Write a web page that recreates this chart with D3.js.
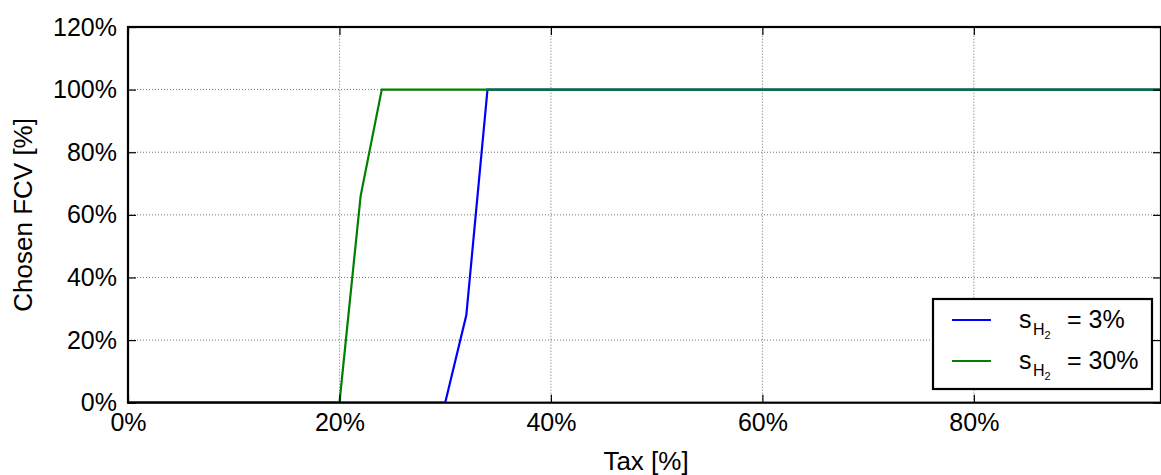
<!DOCTYPE html>
<html>
<head>
<meta charset="utf-8">
<script src="https://cdn.jsdelivr.net/npm/d3@7"></script>
<style>
  html, body { margin: 0; padding: 0; background: #fff; }
  svg { display: block; font-family: "Liberation Sans", Arial, sans-serif; }
</style>
</head>
<body>
<svg id="chart" width="1161" height="475"></svg>
<script>
// Tax level (%) where each curve bends, and the share of FCV chosen (%)
const taxLow = [0, 30, 32, 34, 100];
const fcvLow = [0, 0, 28, 100, 100];
const taxHigh = [0, 20, 22, 24, 100];
const fcvHigh = [0, 0, 66, 100, 100];

const seriesNames = ["3%", "30%"];
const seriesColors = ["#0000ff", "#008000"];

const xTicks = [0, 20, 40, 60, 80];
const yTicks = [0, 20, 40, 60, 80, 100, 120];
const xMax = 97.7;
const yMax = 120;

const svg = d3.select("#chart");
const margin = { left: 128, right: 0, top: 27, bottom: 72 };
const W = 1161, H = 475;

const x = d3.scaleLinear().domain([0, xMax]).range([margin.left, W - margin.right]);
const y = d3.scaleLinear().domain([0, yMax]).range([H - margin.bottom - 0.3, margin.top]);

const tickFs = 25;
const labelFs = 26;

// clip so lines stay inside plotting area
svg.append("defs").append("clipPath").attr("id", "plotclip")
  .append("rect")
  .attr("x", x(0)).attr("y", y(yMax))
  .attr("width", x(xMax) - x(0)).attr("height", y(0) - y(yMax));

// dotted grid
const grid = svg.append("g");
grid.selectAll("line.gx").data(xTicks.filter(d => d > 0)).join("line")
  .attr("x1", d => x(d)).attr("x2", d => x(d))
  .attr("y1", y(0)).attr("y2", y(yMax))
  .attr("stroke", "#000").attr("stroke-width", 0.8)
  .attr("stroke-dasharray", "1,2").attr("opacity", 0.7);
grid.selectAll("line.gy").data(yTicks.filter(d => d > 0 && d < yMax)).join("line")
  .attr("x1", x(0)).attr("x2", x(xMax))
  .attr("y1", d => y(d)).attr("y2", d => y(d))
  .attr("stroke", "#000").attr("stroke-width", 0.8)
  .attr("stroke-dasharray", "1,2").attr("opacity", 0.7);

// series lines
const line = d3.line().x(d => x(d[0])).y(d => y(d[1]));
const series = [
  d3.zip(taxLow, fcvLow),
  d3.zip(taxHigh, fcvHigh)
];
const plot = svg.append("g").attr("clip-path", "url(#plotclip)");
series.forEach((pts, i) => {
  plot.append("path").datum(pts)
    .attr("d", line)
    .attr("fill", "none")
    .attr("stroke", seriesColors[i])
    .attr("stroke-width", 2.2)
    .attr("stroke-linejoin", "miter");
});

// axes with inward ticks on all four sides
const fmt = d => d + "%";
const tickLen = 8;
const axBottom = svg.append("g").attr("transform", `translate(0,${y(0)})`)
  .call(d3.axisBottom(x).tickValues(xTicks).tickFormat(fmt).tickSizeInner(-tickLen).tickSizeOuter(0).tickPadding(11));
const axTop = svg.append("g").attr("transform", `translate(0,${y(yMax)})`)
  .call(d3.axisTop(x).tickValues(xTicks).tickFormat("").tickSizeInner(-tickLen).tickSizeOuter(0));
const axLeft = svg.append("g").attr("transform", `translate(${x(0)},0)`)
  .call(d3.axisLeft(y).tickValues(yTicks).tickFormat(fmt).tickSizeInner(-tickLen).tickSizeOuter(0).tickPadding(11));
const axRight = svg.append("g").attr("transform", `translate(${x(xMax)},0)`)
  .call(d3.axisRight(y).tickValues(yTicks).tickFormat("").tickSizeInner(-tickLen).tickSizeOuter(0));

[axBottom, axTop, axLeft, axRight].forEach(g => {
  g.select(".domain").remove();
  g.selectAll(".tick line").attr("stroke", "#000").attr("stroke-width", 1.2);
  g.selectAll(".tick text").attr("fill", "#000").style("font-size", tickFs + "px")
    .style("font-family", '"Liberation Sans", Arial, sans-serif');
});

// frame
svg.append("rect")
  .attr("x", x(0)).attr("y", y(yMax))
  .attr("width", x(xMax) - x(0)).attr("height", y(0) - y(yMax))
  .attr("fill", "none").attr("stroke", "#000").attr("stroke-width", 2.2);

// axis titles
svg.append("text")
  .attr("x", 646).attr("y", 470)
  .attr("text-anchor", "middle").style("font-size", labelFs + "px")
  .text("Tax [%]");
svg.append("text")
  .attr("transform", `translate(32,${(y(0) + y(yMax)) / 2}) rotate(-90)`)
  .attr("text-anchor", "middle").style("font-size", labelFs + "px")
  .text("Chosen FCV [%]");

// legend
const lg = svg.append("g");
lg.append("rect")
  .attr("x", 933).attr("y", 299).attr("width", 219).attr("height", 90)
  .attr("fill", "#fff").attr("stroke", "#000").attr("stroke-width", 2.2);
seriesNames.forEach((name, i) => {
  const cy = 320 + i * 41;
  lg.append("line")
    .attr("x1", 952).attr("x2", 991).attr("y1", cy).attr("y2", cy)
    .attr("stroke", seriesColors[i]).attr("stroke-width", 2.2);
  const t = lg.append("text")
    .attr("x", 1019).attr("y", cy + 8)
    .style("font-size", tickFs + "px");
  t.append("tspan").text("s");
  t.append("tspan").attr("x", 1033).attr("dy", 7).style("font-size", "16px").text("H");
  t.append("tspan").attr("dy", 4).style("font-size", "11px").text("2");
  lg.append("text")
    .attr("x", 1067).attr("y", cy + 8)
    .style("font-size", tickFs + "px")
    .text("= " + name);
});
</script>
</body>
</html>
